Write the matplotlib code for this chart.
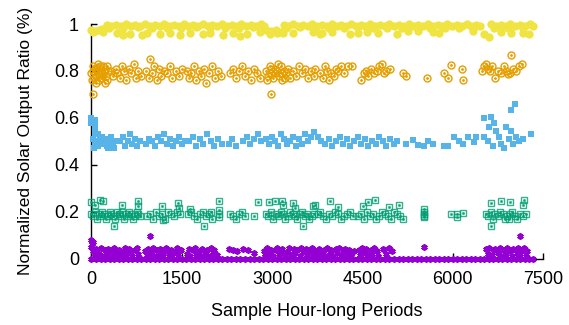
import numpy as np
import matplotlib.pyplot as plt

plt.rcParams['font.family'] = ['Liberation Sans', 'DejaVu Sans']

# точки (час, доля) для каждого ряда
yellow_top = [
    (0, 0.975), (60, 0.97), (120, 0.975), (180, 0.98), (250, 0.997), (330, 0.99), (410, 0.997),
    (490, 0.992), (570, 0.998), (650, 0.99), (730, 0.996), (810, 0.992), (890, 0.998), (970, 0.99),
    (1050, 0.997), (1130, 0.991), (1210, 0.998), (1290, 0.99), (1370, 0.996), (1450, 0.992),
    (1530, 0.998), (1610, 0.99), (1690, 0.997), (1770, 0.991), (1850, 0.998), (1930, 0.99),
    (2010, 0.996), (2090, 0.992), (2170, 0.998), (2250, 0.99), (2330, 0.997), (2410, 0.991),
    (2490, 0.998), (2570, 0.99), (2650, 0.996), (2730, 0.992), (2810, 0.998), (2870, 0.99),
    (3190, 0.997), (3270, 0.991), (3350, 0.998), (3430, 0.99), (3510, 0.996), (3590, 0.992),
    (3670, 0.998), (3750, 0.99), (3830, 0.997), (3910, 0.991), (3990, 0.998), (4070, 0.99),
    (4150, 0.996), (4230, 0.992), (4310, 0.998), (4390, 0.99), (4470, 0.997), (4550, 0.991),
    (4630, 0.998), (4710, 0.99), (4790, 0.996), (4870, 0.992), (4950, 0.998), (5030, 0.99),
    (5110, 0.997), (5190, 0.991), (5270, 0.998), (5350, 0.99), (5430, 0.996), (5510, 0.992),
    (5590, 0.998), (5670, 0.99), (5750, 0.997), (5830, 0.991), (5910, 0.998), (5990, 0.99),
    (6070, 0.996), (6150, 0.992), (6230, 0.998), (6310, 0.99), (6390, 0.997), (6460, 0.991),
    (6640, 0.998), (6720, 0.99), (6800, 0.996), (6880, 0.992), (6960, 0.998), (7040, 0.99),
    (7120, 0.997), (7200, 0.991), (7280, 0.998), (7330, 0.99),
    (290, 0.985), (530, 0.983), (770, 0.986), (1010, 0.983), (1250, 0.985), (1490, 0.983),
    (1730, 0.986), (1970, 0.983), (2210, 0.985), (2450, 0.983), (2690, 0.986), (3230, 0.984),
    (3470, 0.986), (3710, 0.983), (3950, 0.985), (4190, 0.983), (4430, 0.986), (4670, 0.983),
    (4910, 0.985), (5150, 0.983), (5390, 0.986), (5630, 0.983), (5870, 0.985), (6110, 0.983),
    (6350, 0.986), (6680, 0.984), (6920, 0.985), (7160, 0.983),
]
yellow_low = [
    (25, 0.967), (183, 0.967), (417, 0.96), (517, 0.953), (633, 0.957), (833, 0.953), (917, 0.96),
    (1133, 0.957), (1300, 0.963), (1467, 0.953), (1633, 0.96), (1850, 0.957), (1967, 0.963),
    (2183, 0.953), (2350, 0.96), (2467, 0.95), (2583, 0.957), (2800, 0.967), (2900, 0.975),
    (2967, 0.957), (2980, 0.97), (3060, 0.975), (3083, 0.963), (3130, 0.968), (3183, 0.963),
    (3350, 0.96), (3683, 0.967), (3800, 0.957), (3833, 0.96), (4000, 0.967), (4300, 0.957),
    (4433, 0.963), (4583, 0.967), (4767, 0.963), (5083, 0.957), (5250, 0.971), (5417, 0.971),
    (5667, 0.967), (5767, 0.963), (6333, 0.971), (6517, 0.957), (6600, 0.946), (6800, 0.967),
    (6967, 0.963), (7167, 0.96), (7267, 0.957),
]

orange_pts = [
    (0, 0.79), (10, 0.76), (20, 0.80), (22, 0.70), (30, 0.82), (40, 0.77), (60, 0.81), (70, 0.75),
    (80, 0.78), (90, 0.81), (100, 0.80), (110, 0.83), (120, 0.76), (140, 0.82), (150, 0.77),
    (160, 0.79), (170, 0.79), (180, 0.77), (190, 0.82), (200, 0.80), (220, 0.81), (230, 0.75),
    (240, 0.78), (250, 0.82), (260, 0.76), (280, 0.80),
    (320, 0.80), (360, 0.78), (400, 0.81), (430, 0.79), (470, 0.77), (500, 0.82), (540, 0.80),
    (580, 0.76), (620, 0.81), (660, 0.79), (700, 0.83), (740, 0.77), (780, 0.80), (820, 0.78),
    (900, 0.80), (950, 0.77), (967, 0.85), (1000, 0.79), (1040, 0.82), (1080, 0.76), (1120, 0.81),
    (1160, 0.78), (1200, 0.80), (1250, 0.79), (1300, 0.82), (1340, 0.77), (1400, 0.80),
    (1450, 0.78), (1500, 0.81),
    (1580, 0.80), (1620, 0.77), (1660, 0.79), (1700, 0.82), (1740, 0.76), (1780, 0.80),
    (1820, 0.78), (1870, 0.81), (1900, 0.75), (1950, 0.79), (2000, 0.82), (2050, 0.77),
    (2100, 0.80), (2150, 0.78),
    (2300, 0.79), (2350, 0.81), (2400, 0.77), (2450, 0.80), (2500, 0.82), (2550, 0.78),
    (2600, 0.80), (2650, 0.76), (2700, 0.81), (2750, 0.79), (2800, 0.77),
    (2900, 0.80), (2920, 0.76), (2930, 0.78), (2960, 0.82), (2978, 0.70), (2980, 0.81),
    (2990, 0.79), (3020, 0.77), (3040, 0.79), (3050, 0.81), (3080, 0.80), (3100, 0.83),
    (3110, 0.78), (3140, 0.82), (3160, 0.79), (3170, 0.76), (3200, 0.80), (3220, 0.77),
    (3230, 0.79), (3260, 0.81), (3290, 0.77), (3350, 0.80), (3400, 0.78), (3450, 0.82),
    (3500, 0.79), (3550, 0.81), (3600, 0.77), (3650, 0.80), (3700, 0.78),
    (3720, 0.81), (3800, 0.79), (3850, 0.77), (3880, 0.82), (3920, 0.80), (3950, 0.76),
    (3980, 0.79), (4020, 0.78), (4060, 0.81), (4100, 0.80), (4150, 0.82), (4200, 0.79),
    (4260, 0.82), (4320, 0.82),
    (4480, 0.76), (4520, 0.79), (4560, 0.80), (4600, 0.78), (4650, 0.81), (4700, 0.79),
    (4740, 0.80), (4780, 0.82), (4820, 0.83), (4860, 0.79), (4900, 0.80), (4960, 0.81),
    (5180, 0.79), (5230, 0.78), (5580, 0.77), (5850, 0.79), (5917, 0.77), (5967, 0.825),
    (6150, 0.81), (6170, 0.76),
    (6480, 0.80), (6520, 0.82), (6550, 0.83), (6580, 0.81), (6620, 0.80), (6650, 0.82),
    (6700, 0.77), (6750, 0.80), (6800, 0.79), (6850, 0.82), (6880, 0.80), (6920, 0.785),
    (6960, 0.79), (6967, 0.87), (7000, 0.81), (7050, 0.80), (7100, 0.82), (7150, 0.83),
]

blue_pts = [
    (0, 0.60), (30, 0.59), (60, 0.59), (60, 0.57), (60, 0.55), (60, 0.53), (0, 0.58),
    (20, 0.51), (50, 0.49), (80, 0.50), (110, 0.48), (140, 0.52), (170, 0.50), (200, 0.49),
    (230, 0.51), (260, 0.48), (290, 0.50), (320, 0.52), (350, 0.49), (380, 0.47), (410, 0.50),
    (40, 0.47), (100, 0.53), (180, 0.52), (270, 0.47), (340, 0.50),
    (480, 0.50), (520, 0.52), (560, 0.48), (600, 0.50), (640, 0.53), (680, 0.49), (720, 0.51),
    (760, 0.48), (800, 0.50),
    (900, 0.49), (950, 0.51), (1000, 0.50), (1050, 0.48), (1100, 0.52), (1150, 0.50),
    (1200, 0.53), (1250, 0.49), (1300, 0.51), (1350, 0.48), (1400, 0.50), (1450, 0.52),
    (1500, 0.49), (1550, 0.50),
    (1620, 0.50), (1680, 0.52), (1740, 0.48), (1800, 0.51), (1860, 0.49), (1920, 0.53),
    (1980, 0.50), (2040, 0.48), (2100, 0.51), (2160, 0.49),
    (2280, 0.49), (2340, 0.51), (2400, 0.48),
    (2520, 0.50), (2580, 0.52), (2640, 0.49), (2700, 0.51), (2760, 0.53), (2820, 0.50),
    (2900, 0.51), (2950, 0.49), (3000, 0.52), (3050, 0.50), (3100, 0.48), (3150, 0.53),
    (3200, 0.51), (3250, 0.49), (3300, 0.50), (3350, 0.52), (3400, 0.48), (3450, 0.51),
    (3500, 0.49), (3550, 0.53), (3600, 0.50), (3650, 0.52), (3700, 0.54),
    (3760, 0.52), (3820, 0.50), (3880, 0.49), (3940, 0.51), (4000, 0.48), (4060, 0.50),
    (4120, 0.52), (4180, 0.49), (4240, 0.51), (4300, 0.48), (4360, 0.50), (4420, 0.52),
    (4480, 0.49), (4540, 0.51), (4600, 0.48), (4660, 0.50), (4720, 0.49), (4780, 0.52),
    (4840, 0.50), (4900, 0.48), (4960, 0.51), (5020, 0.49), (5080, 0.50),
    (5217, 0.49), (5333, 0.505), (5417, 0.485), (5517, 0.478), (5583, 0.50), (5667, 0.487),
    (5850, 0.478), (5917, 0.478), (6017, 0.517), (6100, 0.50), (6167, 0.49), (6250, 0.52),
    (6350, 0.495), (6383, 0.52),
    (6517, 0.598), (6633, 0.603), (6683, 0.58), (6600, 0.56), (6717, 0.545), (6967, 0.632),
    (7033, 0.658), (6883, 0.56), (6967, 0.545),
    (6517, 0.52), (6583, 0.50), (6667, 0.48), (6767, 0.52), (6800, 0.49), (6850, 0.47),
    (6933, 0.51), (7000, 0.49), (7050, 0.52), (7100, 0.50), (7167, 0.51), (7300, 0.53),
]

green_pts = [
    (0, 0.19), (30, 0.18), (60, 0.20), (90, 0.17), (120, 0.19), (150, 0.18), (180, 0.20),
    (210, 0.19), (240, 0.17), (270, 0.18), (300, 0.20), (330, 0.19), (360, 0.18), (390, 0.17),
    (420, 0.20), (450, 0.19), (480, 0.18), (510, 0.20), (540, 0.17), (570, 0.19), (600, 0.18),
    (630, 0.20), (660, 0.19), (690, 0.17), (720, 0.18), (750, 0.20), (780, 0.19), (810, 0.18),
    (0, 0.24), (133, 0.25), (183, 0.245), (50, 0.23), (500, 0.23), (767, 0.245), (767, 0.225),
    (367, 0.137),
    (920, 0.18), (970, 0.19), (1020, 0.17), (1070, 0.20), (1120, 0.18), (1170, 0.19),
    (1220, 0.17), (1270, 0.20), (1320, 0.19), (1370, 0.18), (1420, 0.20), (1470, 0.19),
    (1167, 0.225), (1433, 0.235), (1450, 0.215), (1183, 0.165),
    (1600, 0.19), (1650, 0.20), (1700, 0.18), (1750, 0.17), (1800, 0.19), (1850, 0.20),
    (1900, 0.18), (1950, 0.19), (2000, 0.17),
    (1633, 0.21), (1867, 0.137), (1983, 0.20),
    (2117, 0.245), (2117, 0.205), (2117, 0.19), (2117, 0.175),
    (2300, 0.19), (2350, 0.18), (2400, 0.17), (2450, 0.19), (2500, 0.20), (2550, 0.18),
    (2700, 0.18), (2767, 0.24),
    (2900, 0.19), (2940, 0.18), (2980, 0.20), (3020, 0.17), (3060, 0.19), (3100, 0.18),
    (3140, 0.20), (3180, 0.19), (3220, 0.17), (3260, 0.18), (3300, 0.20), (3340, 0.19),
    (3380, 0.18), (3420, 0.17), (3460, 0.19), (3500, 0.20), (3540, 0.18), (3580, 0.19),
    (3620, 0.17), (3660, 0.18), (3700, 0.19),
    (2950, 0.24), (3050, 0.245), (3167, 0.245), (3183, 0.23), (3350, 0.235), (3383, 0.215),
    (3517, 0.14), (3717, 0.23),
    (3760, 0.19), (3800, 0.20), (3850, 0.18), (3900, 0.17), (3950, 0.19), (4000, 0.18),
    (4050, 0.20), (4100, 0.19), (4150, 0.17), (4200, 0.18), (4250, 0.19), (4300, 0.20),
    (4350, 0.18),
    (3683, 0.225), (3967, 0.245), (4100, 0.22),
    (4420, 0.18), (4470, 0.19), (4520, 0.17), (4570, 0.20), (4620, 0.18), (4670, 0.19),
    (4720, 0.17), (4770, 0.18), (4820, 0.20), (4870, 0.19), (4920, 0.18), (4970, 0.17),
    (5020, 0.20), (5070, 0.19), (5120, 0.18), (5170, 0.17),
    (4517, 0.225), (4600, 0.24), (4717, 0.25), (4950, 0.22), (5100, 0.23),
    (5517, 0.21), (5517, 0.20), (5517, 0.19), (5517, 0.18), (5517, 0.175),
    (5967, 0.19), (6067, 0.19), (6067, 0.175), (6167, 0.195),
    (6550, 0.19), (6590, 0.18), (6630, 0.20), (6670, 0.17), (6710, 0.19), (6750, 0.18),
    (6790, 0.20), (6830, 0.19), (6870, 0.17), (6910, 0.18), (6950, 0.19), (6990, 0.20),
    (7030, 0.18), (7070, 0.17), (7120, 0.19), (7170, 0.18), (7220, 0.19),
    (6633, 0.235), (6800, 0.245), (6950, 0.24), (7183, 0.25), (7167, 0.23), (6633, 0.137),
    (6933, 0.17),
]

purple_band = [
    (0, 0.08), (20, 0.072), (10, 0.062), (0, 0.05),
    (30, 0.03), (55, 0.012), (80, 0.04), (130, 0.02), (155, 0.045), (180, 0.01), (230, 0.035),
    (255, 0.02), (280, 0.042), (330, 0.015), (355, 0.03), (380, 0.045), (430, 0.02), (455, 0.038),
    (480, 0.01), (530, 0.03), (555, 0.045), (580, 0.018), (630, 0.04), (655, 0.025), (680, 0.01),
    (730, 0.035), (755, 0.045), (780, 0.02),
    (890, 0.03), (915, 0.015), (940, 0.042), (990, 0.025), (1015, 0.045), (1040, 0.01),
    (1090, 0.035), (1115, 0.02), (1140, 0.04), (1190, 0.012), (1215, 0.03), (1240, 0.045),
    (1290, 0.02), (1315, 0.038), (1340, 0.01), (1390, 0.032), (1415, 0.045), (1440, 0.018),
    (1490, 0.035),
    (1590, 0.02), (1615, 0.04), (1640, 0.012), (1690, 0.035), (1715, 0.045), (1740, 0.02),
    (1790, 0.03), (1815, 0.01), (1840, 0.042), (1890, 0.025), (1915, 0.038), (1940, 0.012),
    (1990, 0.045), (2015, 0.02), (2040, 0.035), (2090, 0.015),
    (2290, 0.04), (2350, 0.035), (2420, 0.03), (2520, 0.042), (2600, 0.038), (2700, 0.025),
    (2860, 0.03), (2885, 0.012), (2910, 0.045), (2960, 0.02), (2985, 0.038), (3010, 0.01),
    (3060, 0.035), (3085, 0.045), (3110, 0.018), (3160, 0.04), (3185, 0.025), (3210, 0.01),
    (3260, 0.032), (3285, 0.045), (3310, 0.015), (3360, 0.04), (3385, 0.022), (3410, 0.035),
    (3460, 0.012), (3485, 0.045), (3510, 0.028), (3560, 0.04), (3585, 0.015), (3610, 0.035),
    (3660, 0.045), (3685, 0.02), (3710, 0.03), (3760, 0.01), (3785, 0.042), (3810, 0.025),
    (3860, 0.038), (3885, 0.012), (3910, 0.045), (3960, 0.02), (3985, 0.035), (4010, 0.01),
    (4060, 0.04), (4085, 0.025), (4110, 0.045), (4160, 0.015), (4185, 0.032), (4210, 0.042),
    (4260, 0.02), (4285, 0.038), (4310, 0.01), (4360, 0.03),
    (4440, 0.035), (4465, 0.015), (4490, 0.045), (4540, 0.025), (4565, 0.04), (4590, 0.01),
    (4640, 0.035), (4665, 0.02), (4690, 0.045), (4740, 0.03), (4760, 0.012),
    (4840, 0.04), (4890, 0.02), (4940, 0.045), (4990, 0.03),
    (6560, 0.04), (6585, 0.02), (6610, 0.045), (6660, 0.015), (6685, 0.035), (6710, 0.042),
    (6760, 0.025), (6785, 0.045), (6810, 0.01), (6860, 0.038), (6885, 0.02), (6910, 0.045),
    (6960, 0.03), (6985, 0.012), (7010, 0.04), (7060, 0.025), (7085, 0.045), (7110, 0.018),
    (7160, 0.035), (7185, 0.045), (7210, 0.02), (7240, 0.03),
    (967, 0.094), (5530, 0.047), (7117, 0.095),
]
# часы с нулевой выработкой
purple_zero_x = [
    0, 75, 150, 225, 300, 375, 450, 525, 600, 675, 750, 825, 900, 975, 1050, 1125, 1200, 1275,
    1350, 1425, 1500, 1575, 1650, 1725, 1800, 1875, 1950, 2025, 2100, 2175, 2250, 2325, 2400,
    2475, 2550, 2625, 2700, 2775, 2850, 2925, 3000, 3075, 3150, 3225, 3300, 3375, 3450, 3525,
    3600, 3675, 3750, 3825, 3900, 3975, 4050, 4125, 4200, 4275, 4350, 4425, 4500, 4575, 4650,
    4725, 4800, 4875, 4950, 5025, 5100, 5175, 5250, 5325, 5400, 5475, 5550, 5625, 5700, 5775,
    5850, 5925, 6000, 6075, 6150, 6225, 6300, 6375, 6450, 6525, 6600, 6675, 6750, 6825, 6900,
    6975, 7050, 7125, 7200, 7275, 7330,
]

x_ticks = [0, 1500, 3000, 4500, 6000, 7500]
y_ticks = [0, 0.2, 0.4, 0.6, 0.8, 1]
y_tick_labels = ["0", "0.2", "0.4", "0.6", "0.8", "1"]

fig = plt.figure(figsize=(5.69, 3.25), dpi=100)
ax = fig.add_axes([0.1608, 0.2046, 0.7935, 0.7215])


def split(pts):
    return [p[0] for p in pts], [p[1] for p in pts]


# пурпурный ряд: звездочки
px, py = split(purple_band)
ax.plot(purple_zero_x, [0.0] * len(purple_zero_x), ls='none', marker=(6, 2, 0), ms=4.5,
        mew=1.4, color='#9400d3', clip_on=False)
ax.plot(px, py, ls='none', marker=(6, 2, 0), ms=4.5, mew=1.4, color='#9400d3', clip_on=False)

# зеленый ряд: пустые квадраты с точкой
gx, gy = split(green_pts)
ax.plot(gx, gy, ls='none', marker='s', ms=4.6, mfc='none', mec='#009e73', mew=1.0,
        alpha=0.8, clip_on=False)
ax.plot(gx, gy, ls='none', marker='s', ms=1.0, color='#009e73', alpha=0.8, clip_on=False)

# голубой ряд: залитые квадраты
bx, by = split(blue_pts)
ax.plot(bx, by, ls='none', marker='s', ms=4.9, color='#56b4e9', mew=0, clip_on=False)

# оранжевый ряд: пустые круги с точкой
ox, oy = split(orange_pts)
ax.plot(ox, oy, ls='none', marker='o', ms=5.0, mfc='none', mec='#e69f00', mew=1.0,
        clip_on=False)
ax.plot(ox, oy, ls='none', marker='o', ms=1.0, color='#e69f00', clip_on=False)

# желтый ряд: залитые круги
yx, yy = split(yellow_top + yellow_low)
ax.plot(yx, yy, ls='none', marker='o', ms=6.0, color='#f0e442', mew=0, clip_on=False)

ax.set_xlim(0, 7500)
ax.set_ylim(0, 1)
ax.set_xticks(x_ticks)
ax.set_yticks(y_ticks)
ax.set_yticklabels(y_tick_labels)
ax.spines['top'].set_visible(False)
ax.spines['right'].set_visible(False)
for s in ['left', 'bottom']:
    ax.spines[s].set_linewidth(1.0)
    ax.spines[s].set_zorder(0)
ax.tick_params(direction='in', length=4, width=1, labelsize=13, pad=9)

ax.set_xlabel("Sample Hour-long Periods", fontsize=13, labelpad=11)
ax.set_ylabel("Normalized Solar Output Ratio (%)", fontsize=12.5, labelpad=15)

fig.savefig("out.png", dpi=100)
